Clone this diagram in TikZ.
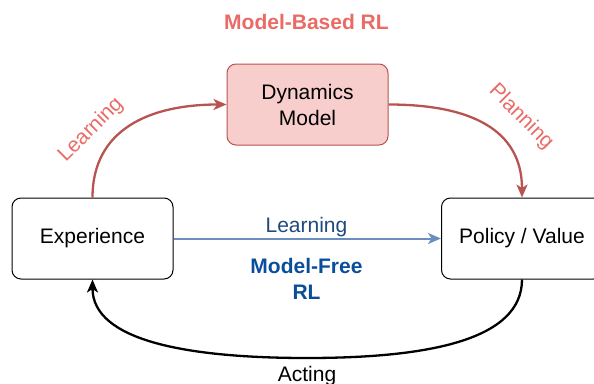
\documentclass[tikz,border=0pt]{standalone}
\usepackage{fontspec}
\setmainfont{Liberation Sans}
\usetikzlibrary{arrows.meta}
\definecolor{redline}{HTML}{B85450}
\definecolor{redfill}{HTML}{F8CECC}
\definecolor{redtext}{HTML}{EA6B66}
\definecolor{blueline}{HTML}{6C8EBF}
\definecolor{bluetext}{HTML}{1F4A7A}
\definecolor{bluebold}{HTML}{0A4E9B}
\newcommand{\diagfont}{\fontsize{21}{26}\selectfont}
\begin{document}
\begin{tikzpicture}[x=1pt,y=-1pt,
  box/.style={draw=black, line width=1pt, rounded corners=9pt, minimum width=161pt,
    minimum height=81pt, inner sep=0pt, font=\diagfont, align=center},
  dynbox/.style={box, draw=redline, fill=redfill},
  tip/.style={-{Stealth[length=13pt,width=11pt,inset=3.5pt]}},
  redarrow/.style={tip, draw=redline, line width=2.3pt},
  bluearrow/.style={tip, draw=blueline, line width=2pt},
  blackarrow/.style={tip, draw=black, line width=2.3pt},
  lbl/.style={inner sep=0pt, font=\diagfont},
  redlbl/.style={lbl, text=redtext},
  boldlbl/.style={lbl, font=\diagfont\bfseries, align=center}
]
\useasboundingbox (0,0) rectangle (594,383);
\clip (0,0) rectangle (594,383);

\node[box] (exp) at (92.5,238.5) {Experience};
\node[box] (pol) at (522,238.5) {Policy / Value};
\node[dynbox] (dyn) at (307.5,104.5) {Dynamics\\Model};

\node[boldlbl, text=redtext] (mbrl) at (306.5,22) {Model-Based RL};

\draw[redarrow] (exp.north) .. controls +(0,-68) and +(-77,0) .. (dyn.west);
\draw[redarrow] (dyn.east) .. controls +(82,0) and +(0,-68) .. (pol.north);
\draw[bluearrow] (exp.east) -- (pol.west);

\coordinate (bot) at (307,358);
\draw[blackarrow] (pol.south) .. controls +(0,60) and +(123,0) .. (bot)
  .. controls +(-117,0) and +(0,62) .. (exp.south);

\node[redlbl, rotate=45] (learn1) at (91,130) {Learning};
\node[redlbl, rotate=-45] (plan) at (521,117) {Planning};
\node[lbl, text=bluetext, anchor=base] (learn2) at (306.5,232) {Learning};
\node[boldlbl, text=bluebold] (mfrl) at (306.5,278.5) {Model-Free\\RL};
\node[lbl, anchor=base] (act) at (307,381) {Acting};
\end{tikzpicture}
\end{document}
